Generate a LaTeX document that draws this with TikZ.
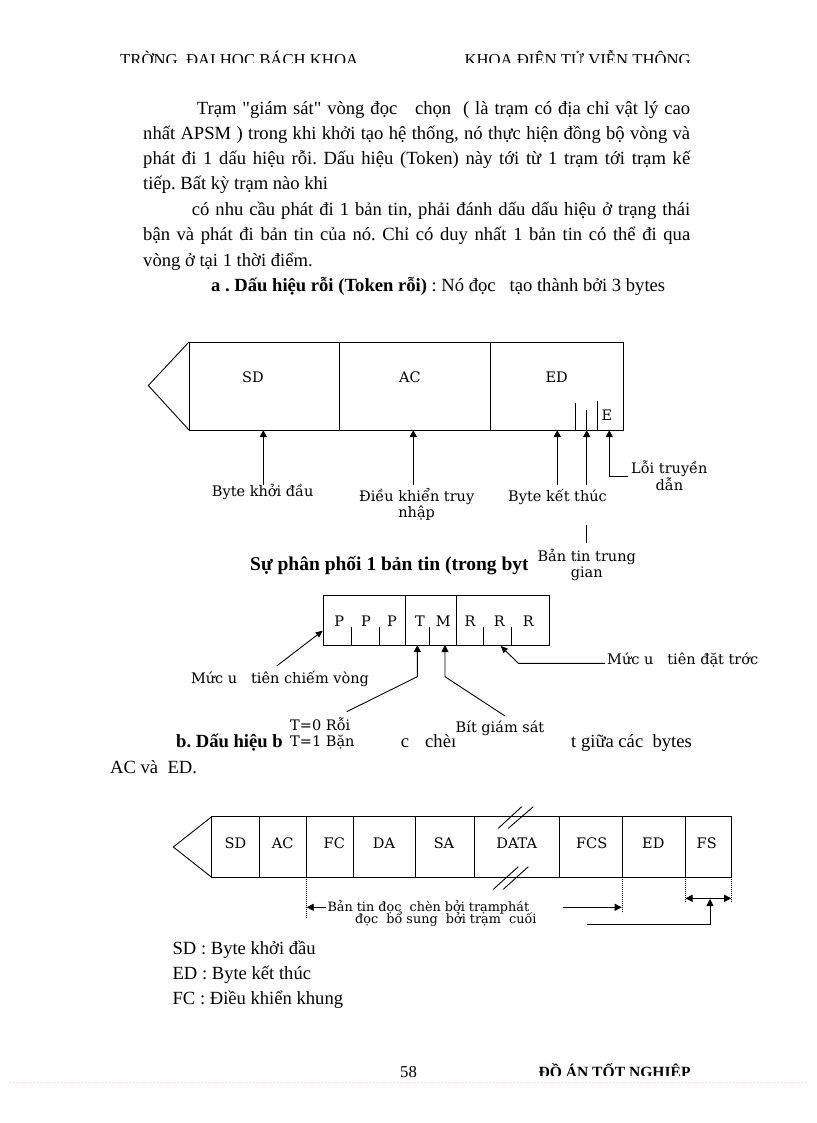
\documentclass[tikz,border=0pt]{standalone}
\usepackage{fontspec}
\setmainfont{Liberation Serif}
\newfontfamily\qfont{Liberation Serif}
\newfontfamily\dfont{DejaVu Serif}
\usetikzlibrary{arrows.meta}
\definecolor{pinkdot}{RGB}{245,205,240}
\frenchspacing
\begin{document}
\frenchspacing
\begin{tikzpicture}[x=1pt,y=-1pt,
  body/.style={font=\frenchspacing\fontsize{18.6}{22}\selectfont, inner sep=0pt, anchor=base west},
  head/.style={font=\fontsize{16.7}{20}\selectfont, inner sep=0pt, anchor=base west},
  lab/.style={font=\dfont\fontsize{14.5}{15.5}\selectfont, inner sep=0pt},
  lab2/.style={font=\dfont\fontsize{12.8}{11.8}\selectfont, inner sep=0pt},
  ln/.style={line width=0.9pt},
  arr/.style={line width=0.9pt, -{Triangle[width=7pt,length=7pt]}},
  arrs/.style={line width=0.9pt, -{Triangle[width=6pt,length=7pt]}},
  darr/.style={line width=0.9pt, {Triangle[width=7pt,length=7pt]}-{Triangle[width=7pt,length=7pt]}},
  dotln/.style={line width=0.8pt, dash pattern=on 0.8pt off 1.2pt}
]
\useasboundingbox (0,0) rectangle (816,1123);
\fill[white] (0,0) rectangle (816,1123);

% ---------- header (clipped) ----------
\begin{scope}
\clip (0,0) rectangle (816,63);
\node[head] (hl) at (120,66) {TRỜNG\ \ ĐẠI HỌC BÁCH KHOA};
\node[head,anchor=base east] (hr) at (691,66) {KHOA ĐIỆN TỬ VIỄN THÔNG};
\end{scope}

% ---------- paragraph ----------
\node[body] (p1) at (196.7,114.3) {\makebox[493.3pt][s]{Trạm {\qfont"}giám sát{\qfont"} vòng đọc\ \ \ chọn\ \ ( là trạm có địa chỉ vật lý cao}};
\node[body] (p2) at (143,139.5) {\makebox[547pt][s]{nhất APSM ) trong khi khởi tạo hệ thống, nó thực hiện đồng bộ vòng và}};
\node[body] (p3) at (143,164.7) {\makebox[547pt][s]{phát đi 1 dấu hiệu rỗi. Dấu hiệu (Token) này tới từ 1 trạm tới trạm kế}};
\node[body] (p4) at (143,189.9) {tiếp. Bất kỳ trạm nào khi};
\node[body] (p5) at (191.7,215.3) {\makebox[498.3pt][s]{có nhu cầu phát đi 1 bản tin, phải đánh dấu dấu hiệu ở trạng thái}};
\node[body] (p6) at (143,240.8) {\makebox[547pt][s]{bận và phát đi bản tin của nó. Chỉ có duy nhất 1 bản tin có thể đi qua}};
\node[body] (p7) at (143,266) {vòng ở tại 1 thời điểm.};
\node[body] (p8) at (211,291) {\textbf{a . Dấu hiệu rỗi (Token rỗi)} : Nó đọc\ \ \ tạo thành bởi 3 bytes};

% ---------- diagram 1 ----------
\draw[ln] (189,342) rectangle (623,430);
\draw[ln] (189,342) -- (148.3,385.5) -- (189,430);
\draw[ln] (339.5,342) -- (339.5,430);
\draw[ln] (490.5,342) -- (490.5,430);
\node[lab] (sd1) at (253,377.7) {SD};
\node[lab] (ac1) at (410,377.7) {AC};
\node[lab] (ed1) at (556.7,377.7) {ED};
\draw[ln] (575.7,403) -- (575.7,430);
\draw[ln] (586.7,410) -- (586.7,430);
\draw[ln] (597.7,401) -- (597.7,430);
\node[lab] (e1) at (607,415) {E};

\node[lab] (bkd) at (262.7,491.7) {Byte khởi đầu};
\node[lab,align=center] (dk) at (416.7,504.5) {Điều khiển truy\\nhập};
\node[lab] (bkt) at (557.5,496.7) {Byte kết thúc};
\node[lab,align=center,anchor=west] (loi) at (631,475.6) {Lỗi truyền\\dẫn};

\draw[arr] (263.3,484.5) -- (263.3,430);
\draw[arr] (413.3,484.5) -- (413.3,430);
\draw[arr] (557.3,484.5) -- (557.3,430);
\draw[arr] (586.7,484.5) -- (586.7,430);
\coordinate (loiA) at (628.3,476.7);
\coordinate (loiB) at (609.3,430);
\draw[arr] (loiA) -| (loiB);
\draw[ln] (586.7,525) -- (586.7,543.3);

\begin{scope}
\clip (240,545) rectangle (527,590);
\node[body,font=\fontsize{19.5}{24}\selectfont] (spp) at (250,570.6) {\textbf{Sự phân phối 1 bản tin (trong byte}};
\end{scope}
\node[lab,align=center] (btg) at (586.7,565) {Bản tin trung\\gian};

% ---------- diagram 2 ----------
\draw[ln] (323.3,595) rectangle (549,645);
\draw[ln] (405.7,595) -- (405.7,645);
\draw[ln] (456.7,595) -- (456.7,645);
\foreach \x in {351,379,429.3,483.3,511}
  \draw[ln] (\x,627) -- (\x,645);
\foreach \x/\t/\n in {339.3/P/pa,366/P/pb,392/P/pc,420/T/tt,443.3/M/mm,470/R/ra,499.3/R/rb,528.3/R/rc}
  \node[lab] (\n) at (\x,621.7) {\t};

\node[lab] (mcv) at (280,679) {Mức u\ \ \ tiên chiếm vòng};
\draw[arrs] (276.7,666) -- (322.7,630.7);

\node[lab,align=left,anchor=west] (tval) at (290,733.4) {T=0 Rỗi\\T=1 Bặn};
\draw[arr] (346.7,711.7) -- (417.3,676.7) -- (417.3,645);

\node[lab] (bgs) at (500,728.3) {Bít giám sát};
\draw[arr] (505,716) -- (445,676.7) -- (445,645);

\node[lab,anchor=west] (mdt) at (607,660) {Mức u\ \ \ tiên đặt trớc};
\draw[arrs] (605,663.3) -- (518.3,663.3) -- (500.7,646);

% ---------- body fragments ----------
\node[body] (bl) at (176,747.7) {\textbf{b. Dấu hiệu b}};
\node[body] (bc) at (400.7,747.7) {c};
\node[body] (bch) at (425,747.7) {chèı};
\node[body,anchor=base east] (bt) at (692,747.7) {t giữa các\ \ bytes};
\node[body] (acv) at (110,773) {AC và\ \ ED.};

% ---------- diagram 3 ----------
\draw[ln] (211.7,816.7) rectangle (731.7,877.3);
\draw[ln] (211.7,816.7) -- (173.3,847) -- (211.7,877.3);
\foreach \x in {259.3,306,353.3,415.7,474.3,559.3,622.3,685}
  \draw[ln] (\x,816.7) -- (\x,877.3);
\foreach \x/\t/\n in {235.5/SD/c1,282.7/AC/c2,334.3/FC/c3,384/DA/c4,444/SA/c5,516.7/DATA/c6,591.7/FCS/c7,653.3/ED/c8,706.7/FS/c9}
  \node[lab] (\n) at (\x,843.3) {\t};
\draw[ln] (498.3,828.3) -- (521.7,806.7);
\draw[ln] (508.3,828.3) -- (533.3,806.7);
\draw[ln] (493.3,889.3) -- (518.3,866.7);
\draw[ln] (503.3,889.3) -- (528.3,866.7);

\draw[dotln] (306,877.3) -- (306,918.3);
\draw[dotln] (622.3,877.3) -- (622.3,913.3);
\draw[dotln] (685,877.3) -- (685,901.7);
\draw[dotln] (731.7,877.3) -- (731.7,901.7);

\node[lab2,anchor=west] (bt1) at (327.3,907.3) {Bản tin đọc\ \ chèn bởi trạmphát};
\node[lab2,anchor=west] (bt2) at (355,919) {đọc\ \ bổ sung\ \ bởi trạm\ \ cuối};
\draw[arr] (326,907.3) -- (306.7,907.3);
\draw[arr] (563.3,907.3) -- (621.7,907.3);
\draw[darr] (685.5,898.3) -- (731.2,898.3);
\draw[arr] (586.7,924) -- (710,924) -- (710,899);

% ---------- legend ----------
\node[body] (lg1) at (172.4,954) {SD : Byte khởi đầu};
\node[body] (lg2) at (172.4,979) {ED : Byte kết thúc};
\node[body] (lg3) at (172.4,1004) {FC : Điều khiển khung};

% ---------- footer ----------
\node[head] (pg) at (400,1077.3) {58};
\begin{scope}
\clip (0,1040) rectangle (816,1075.5);
\node[head,font=\fontsize{15.6}{18}\selectfont\bfseries] (ft) at (538.3,1077.6) {ĐỒ ÁN TỐT NGHIỆP};
\end{scope}
\draw[pinkdot, line width=0.8pt, dash pattern=on 1pt off 2pt] (10,1082) -- (806,1082);
\end{tikzpicture}
\end{document}
